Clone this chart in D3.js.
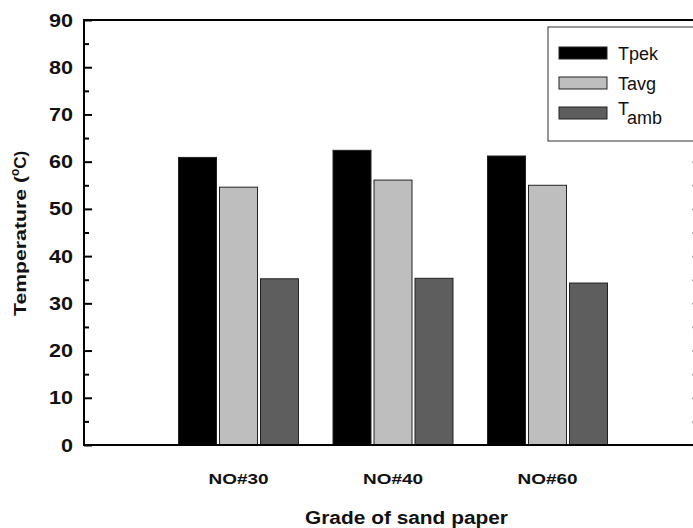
<!DOCTYPE html>
<html>
<head>
<meta charset="utf-8">
<script src="https://cdn.jsdelivr.net/npm/d3@7"></script>
<style>
  body { margin: 0; background: #fff; }
  svg { display: block; font-family: Arial, "Liberation Sans", sans-serif; }
</style>
</head>
<body>
<svg width="693" height="528"></svg>
<script>
const categories = ['NO#30', 'NO#40', 'NO#60']
const series = ['Tpek', 'Tavg', 'Tamb']
const tpek = [60.9, 62.4, 61.2]
const tavg = [54.6, 56.1, 55.0]
const tamb = [35.2, 35.3, 34.3]
const yTicks = [0, 10, 20, 30, 40, 50, 60, 70, 80, 90]
const colors = ['#000000', '#bebebe', '#5e5e5e']

const values = [tpek, tavg, tamb]
const svg = d3.select('svg')
const mLeft = 84, mRight = 702, mTop = 20, mBottom = 445

const x = d3.scaleLinear().domain([0, 4]).range([mLeft, mRight])
const y = d3.scaleLinear().domain([0, 90]).range([mBottom, mTop])
const barW = 38
const step = 41

// bars
series.forEach((s, si) => {
	svg.append('g').selectAll('rect')
		.data(categories)
		.join('rect')
		.attr('x', (d, i) => x(i + 1) + (si - 1) * step - barW / 2)
		.attr('y', (d, i) => y(values[si][i]))
		.attr('width', barW)
		.attr('height', (d, i) => y(0) - y(values[si][i]))
		.attr('fill', colors[si])
		.attr('stroke', '#222')
		.attr('stroke-width', 1)
})

// left axis, major + minor ticks pointing in
svg.append('g')
	.attr('transform', `translate(${mLeft},0)`)
	.call(d3.axisRight(y).tickValues(yTicks).tickSize(8).tickFormat(''))
	.call(g => g.select('.domain').remove())
	.selectAll('line').attr('stroke', '#000').attr('stroke-width', 2)
svg.append('g')
	.attr('transform', `translate(${mLeft},0)`)
	.call(d3.axisRight(y).tickValues(d3.range(5, 90, 10)).tickSize(5).tickFormat(''))
	.call(g => g.select('.domain').remove())
	.selectAll('line').attr('stroke', '#000').attr('stroke-width', 2)

svg.append('g').selectAll('text')
	.data(yTicks)
	.join('text')
	.attr('x', 73)
	.attr('y', d => y(d) + 6.5)
	.attr('text-anchor', 'end')
	.attr('font-size', 18)
	.attr('font-weight', 'bold')
	.attr('fill', '#111')
	.attr('textLength', d => String(d).length * 12)
	.attr('lengthAdjust', 'spacingAndGlyphs')
	.text(d => d)

// right axis (mostly off screen)
svg.append('g')
	.attr('transform', `translate(${mRight},0)`)
	.call(d3.axisLeft(y).tickValues(d3.range(0, 91, 5)).tickSize(10).tickFormat(''))
	.call(g => g.select('.domain').remove())
	.selectAll('line').attr('stroke', '#999').attr('stroke-width', 1.5)

// frame
svg.append('rect')
	.attr('x', mLeft).attr('y', mTop)
	.attr('width', mRight - mLeft).attr('height', mBottom - mTop)
	.attr('fill', 'none').attr('stroke', '#000').attr('stroke-width', 2)

// category labels
svg.append('g').selectAll('text')
	.data(categories)
	.join('text')
	.attr('x', (d, i) => x(i + 1) - 30)
	.attr('y', 484)
	.attr('font-size', 15.5)
	.attr('font-weight', 'bold')
	.attr('fill', '#111')
	.attr('textLength', 60)
	.attr('lengthAdjust', 'spacingAndGlyphs')
	.text(d => d)

svg.append('text')
	.attr('x', 305)
	.attr('y', 524)
	.attr('font-size', 17.5)
	.attr('font-weight', 'bold')
	.attr('fill', '#111')
	.attr('textLength', 203)
	.attr('lengthAdjust', 'spacingAndGlyphs')
	.text('Grade of sand paper')

const yt = svg.append('text')
	.attr('transform', 'translate(26,316) rotate(-90)')
	.attr('font-size', 17)
	.attr('font-weight', 'bold')
	.attr('fill', '#111')
yt.append('tspan').attr('textLength', 140).attr('lengthAdjust', 'spacingAndGlyphs').text('Temperature (')
yt.append('tspan').attr('dy', -7).attr('font-size', 12).text('o')
yt.append('tspan').attr('dy', 7).text('C)')

// legend
const lg = svg.append('g')
lg.append('rect')
	.attr('x', 548).attr('y', 27).attr('width', 150).attr('height', 114)
	.attr('fill', '#fff').attr('stroke', '#333').attr('stroke-width', 1)
series.forEach((s, si) => {
	const ly = 47 + si * 30
	lg.append('rect')
		.attr('x', 559).attr('y', ly).attr('width', 48).attr('height', 12)
		.attr('fill', colors[si]).attr('stroke', '#222').attr('stroke-width', 1)
	const t = lg.append('text')
		.attr('x', 618).attr('y', ly + 13)
		.attr('font-size', 18)
		.attr('fill', '#111')
	if (s === 'Tamb') {
		t.append('tspan').attr('dy', -5).text('T')
		t.append('tspan').attr('dy', 9).text('amb')
	} else {
		t.text(s)
	}
})
</script>
</body>
</html>
